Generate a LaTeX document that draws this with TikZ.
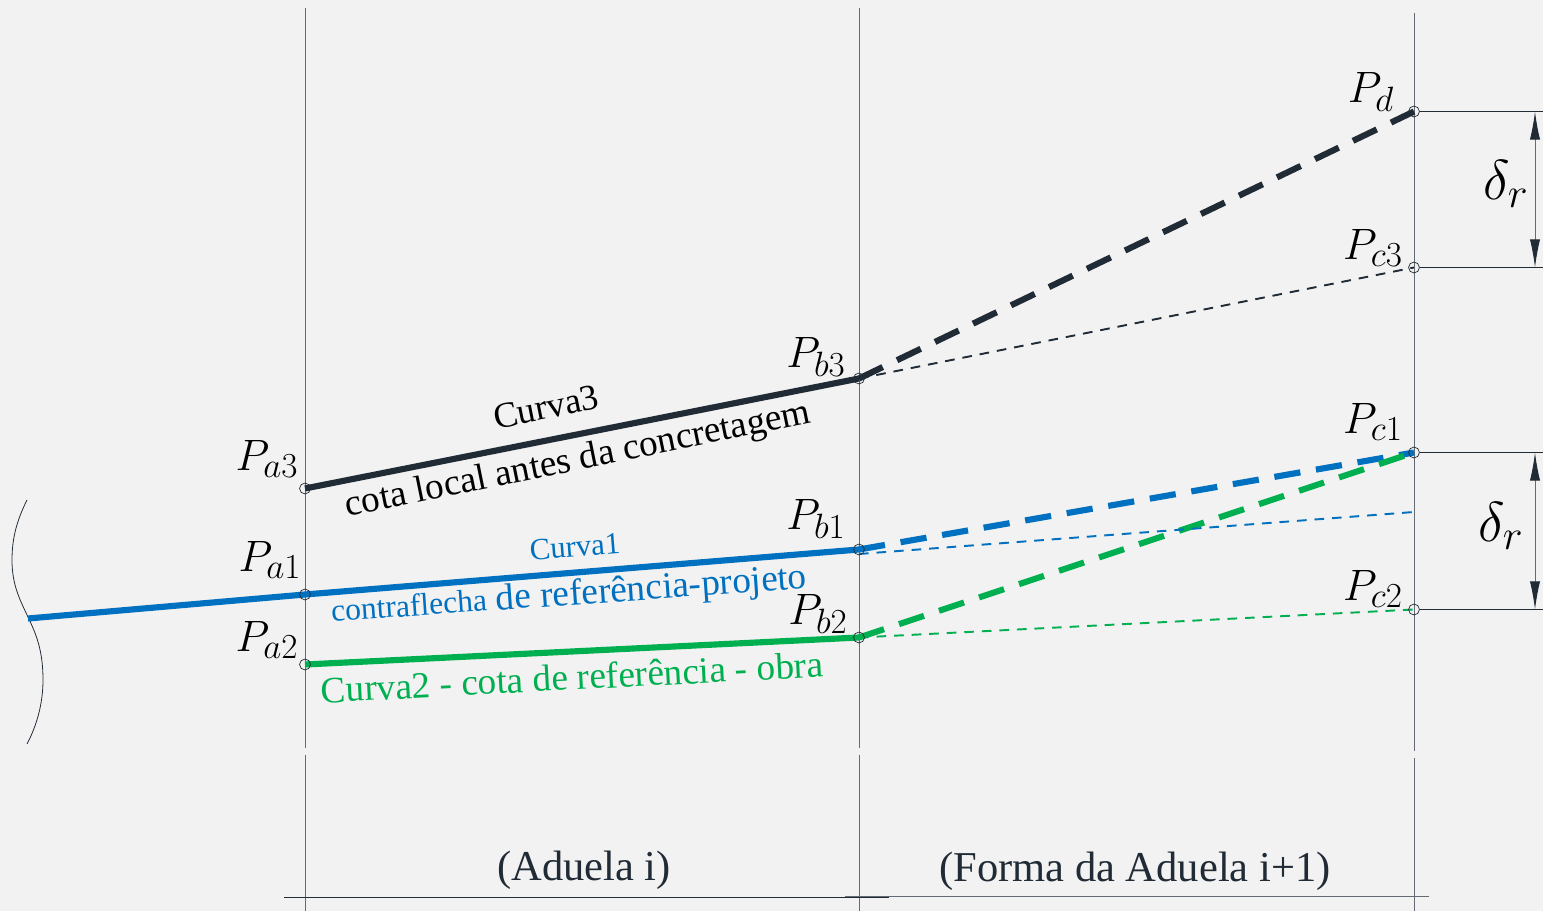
\documentclass[tikz,border=0pt]{standalone}
\usepackage{fix-cm}
\usepackage{fontspec}
\setmainfont{Liberation Serif}
\usetikzlibrary{arrows.meta}
\DeclareMathSizes{25}{25}{20}{16}
\DeclareMathSizes{32}{32}{24}{18}
\definecolor{bgcol}{HTML}{F2F2F2}
\definecolor{darkcol}{HTML}{212B36}
\definecolor{bluecol}{HTML}{0070C0}
\definecolor{greencol}{HTML}{00B050}
\tikzset{
  pt/.style={circle,draw=darkcol,line width=0.4pt,inner sep=0pt,minimum size=6.2pt},
  guide/.style={draw=darkcol!70,line width=0.55pt},
  thinline/.style={draw=darkcol,line width=0.45pt},
  full/.style={line width=3.5pt},
  longdash/.style={line width=3.5pt,dash pattern=on 15pt off 9pt},
  shortdash/.style={line width=1.1pt,dash pattern=on 5.5pt off 4.5pt},
  dimarrow/.style={guide,{Latex[length=16pt,width=5.8pt,color=darkcol]}-{Latex[length=16pt,width=5.8pt,color=darkcol]}},
  lbl/.style={font=\fontsize{25}{27}\selectfont,inner sep=0pt},
  txt/.style={font=\fontsize{21.2}{24}\selectfont,inner sep=0pt}
}
\begin{document}
\begin{tikzpicture}[x=0.02cm,y=-0.02cm]
    \useasboundingbox[fill=bgcol] (0,0) rectangle (1543,911);

    % Vertical lines
    \draw[guide] (305,8) -- (305,748);
    \draw[guide] (305,755) -- (305,911);
    \draw[guide] (859,8) -- (859,748);
    \draw[guide] (859,755) -- (859,911);
    \draw[guide] (1414,13) -- (1414,751);
    \draw[guide] (1414,758) -- (1414,911);

    % Bottom lines
    \draw[thinline] (284,897) -- (889,897);
    \draw[guide] (845,896) -- (1429,896);

    % Break line
    \draw[thinline] (27,500) .. controls (16,522) and (12,540) .. (12,560)
        .. controls (12,585) and (20,600) .. (28,617)
        .. controls (36,634) and (43,650) .. (43,680)
        .. controls (43,705) and (36,727) .. (27,744);

    % Positions of the points
    \coordinate (ka3) at (305,488.5);
    \coordinate (ka1) at (305,594.5);
    \coordinate (ka2) at (305,664.5);
    \coordinate (kb3) at (859,378.5);
    \coordinate (kb1) at (859,549.5);
    \coordinate (kb2) at (859,637.5);
    \coordinate (kd) at (1414,111.5);
    \coordinate (kc3) at (1414,267.5);
    \coordinate (kc1) at (1414,452.5);
    \coordinate (kc2) at (1414,609.5);
    \coordinate (start) at (28,618.5);
    \coordinate (kb1low) at (859,554);
    \coordinate (kc0) at (1414,512);

    % Curves
    \draw[full,darkcol] (ka3) -- (kb3);
    \draw[full,bluecol] (start) -- (ka1) -- (kb1);
    \draw[full,greencol] (ka2) -- (kb2);
    \draw[longdash,darkcol] (kb3) -- (kd);
    \draw[longdash,bluecol] (kb1) -- (kc1);
    \draw[longdash,greencol] (kb2) -- (kc1);
    \draw[shortdash,darkcol] (kb3) -- (kc3);
    \draw[shortdash,bluecol] (kb1low) -- (kc0);
    \draw[shortdash,greencol] (kb2) -- (kc2);

    % Points
    \foreach \p in {a3,a1,a2,b3,b1,b2,d,c3,c1,c2}
        \node[pt] (p\p) at (k\p) {};

    % Dimensions
    \coordinate (e1) at (1543,111.5);
    \coordinate (e2) at (1543,267.5);
    \coordinate (e3) at (1543,452.5);
    \coordinate (e4) at (1543,609.5);
    \draw[thinline] (pd) -- (e1);
    \draw[thinline] (pc3) -- (e2);
    \draw[thinline] (pc1) -- (e3);
    \draw[thinline] (pc2) -- (e4);
    \coordinate (d1) at (1535,111.5);
    \coordinate (d2) at (1535,267.5);
    \coordinate (d3) at (1535,452.5);
    \coordinate (d4) at (1535,609.5);
    \draw[dimarrow] (d1) -- (d2);
    \draw[dimarrow] (d3) -- (d4);
    \node[lbl,font=\fontsize{32}{34}\selectfont] (dr1) at (1506,184) {$\delta_r$};
    \node[lbl,font=\fontsize{32}{34}\selectfont] (dr2) at (1501,526) {$\delta_r$};

    % Labels for points
    \node[lbl] (la3) at (267,459) {$P_{a3}$};
    \node[lbl] (la1) at (270,560) {$P_{a1}$};
    \node[lbl] (la2) at (267,640) {$P_{a2}$};
    \node[lbl] (lb3) at (816,357) {$P_{b3}$};
    \node[lbl] (lb1) at (816,519) {$P_{b1}$};
    \node[lbl] (lb2) at (818,614) {$P_{b2}$};
    \node[lbl] (ld) at (1371,92) {$P_{d}$};
    \node[lbl] (lc3) at (1373,248) {$P_{c3}$};
    \node[lbl] (lc1) at (1373,422) {$P_{c1}$};
    \node[lbl] (lc2) at (1373,589) {$P_{c2}$};

    % Texts
    \node[txt,rotate=11.3,font=\fontsize{20.6}{24}\selectfont] (curva3) at (546,407) {Curva3};
    \node[txt,rotate=11.5] (cota) at (578,461) {cota local antes da concretagem};
    \node[txt,bluecol,rotate=4.6,font=\fontsize{17.5}{20}\selectfont] (curva1) at (575,547) {Curva1};
    \node[txt,bluecol,rotate=4] (contra) at (569,596) {{\fontsize{18}{20}\selectfont contraflecha} de referência-projeto};
    \node[txt,greencol,rotate=3] (curva2) at (572,677) {Curva2 - cota de referência - obra};
    \node[txt,darkcol,font=\fontsize{24.2}{27}\selectfont] (aduela) at (584,870) {(Aduela i)};
    \node[txt,darkcol,font=\fontsize{24.2}{27}\selectfont] (forma) at (1135,871) {(Forma da Aduela i+1)};
\end{tikzpicture}
\end{document}
